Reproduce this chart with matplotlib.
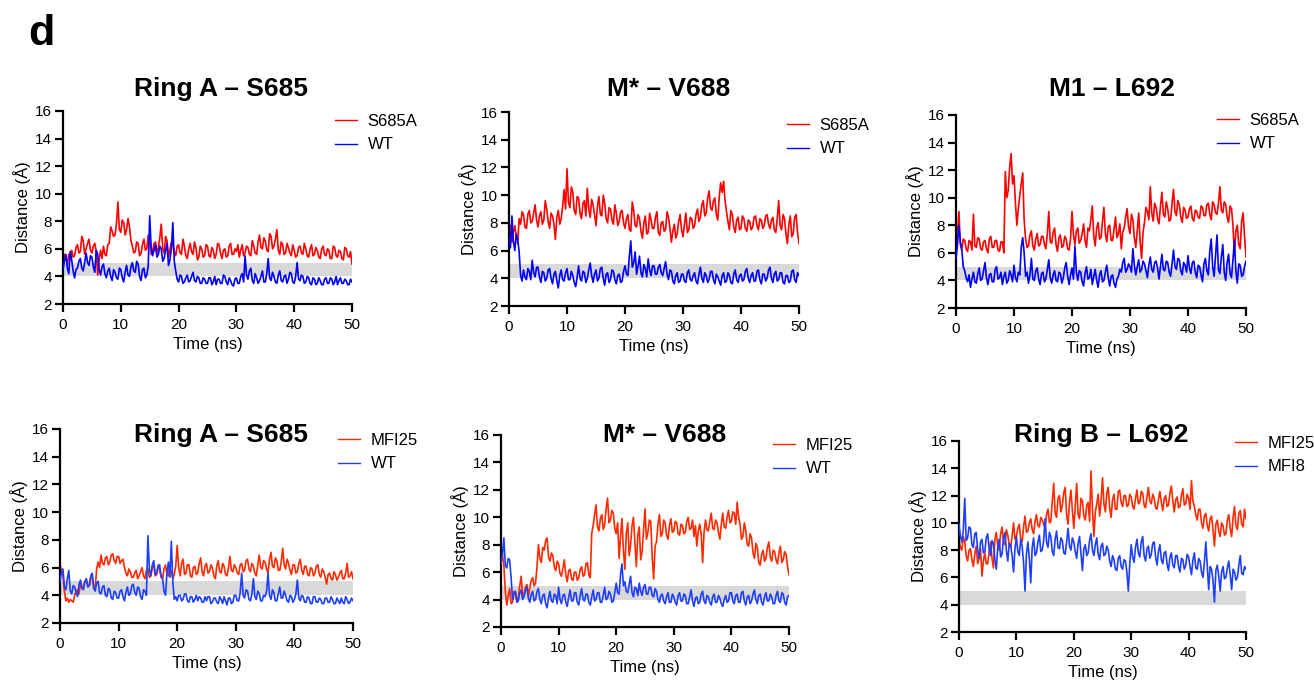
import numpy as np
import matplotlib
matplotlib.use("Agg")
import matplotlib.pyplot as plt

plt.rcParams['font.family'] = ['Liberation Sans', 'DejaVu Sans']

# one sample every 0.25 ns, 0-50 ns
time_ns = np.arange(201) * 0.25

# ---------- top row: S685A vs WT ----------
ringA_s685a = [
    5.0, 5.6, 5.4, 4.9, 5.6, 5.2, 5.9, 5.4, 5.5, 6.1, 6.3, 5.7, 5.8, 6.9, 6.6, 5.6, 6.0, 6.4, 6.7, 5.9,
    5.7, 6.2, 6.4, 5.8, 4.1, 5.2, 5.9, 5.3, 6.2, 5.6, 5.5, 6.3, 6.4, 7.6, 7.3, 6.9, 7.0, 7.8, 9.4, 7.4,
    7.2, 8.1, 7.9, 7.0, 7.4, 8.2, 7.6, 6.6, 6.2, 5.7, 5.8, 6.5, 6.4, 5.5, 5.7, 6.3, 6.7, 5.9, 6.0, 7.0,
    6.9, 5.6, 5.8, 6.4, 6.5, 5.7, 6.1, 6.8, 7.8, 6.0, 5.7, 6.9, 6.6, 5.4, 5.9, 6.5, 6.3, 5.8, 5.5, 6.2,
    6.3, 5.7, 5.6, 6.7, 6.2, 5.5, 5.3, 6.0, 6.4, 5.8, 5.6, 6.5, 6.1, 5.2, 5.4, 6.2, 6.0, 5.4, 5.5, 6.3,
    6.2, 5.5, 5.4, 6.1, 5.9, 5.3, 5.6, 6.4, 6.3, 5.7, 5.3, 5.9, 6.0, 5.4, 5.5, 6.2, 6.4, 5.6, 5.6, 6.0,
    5.8, 6.3, 5.4, 5.9, 6.3, 5.5, 5.7, 6.2, 6.1, 5.6, 5.5, 6.6, 6.2, 5.7, 5.6, 6.5, 7.0, 6.1, 6.0, 6.8,
    6.6, 5.9, 5.8, 7.1, 6.9, 6.0, 6.2, 6.7, 7.4, 5.9, 5.6, 6.5, 6.3, 5.6, 5.7, 6.4, 6.1, 5.7, 5.5, 6.3,
    5.9, 5.4, 5.5, 6.1, 6.2, 5.7, 5.6, 6.4, 6.0, 5.5, 5.4, 6.0, 6.3, 5.5, 5.6, 6.1, 5.9, 5.4, 5.3, 6.0,
    6.2, 5.6, 5.5, 6.0, 5.9, 5.3, 5.3, 6.2, 6.1, 5.5, 5.4, 5.9, 5.8, 5.3, 5.2, 6.1, 6.0, 5.5, 5.4, 5.8,
    4.9]
ringA_wt_top = [
    4.5, 5.1, 5.6, 4.6, 4.2, 5.8, 5.2, 4.4, 3.9, 4.5, 4.6, 5.1, 5.3, 4.6, 4.4, 5.0, 5.7, 5.0, 4.8, 5.5,
    5.4, 4.7, 4.3, 5.9, 5.6, 4.5, 4.1, 4.7, 4.9, 4.2, 3.9, 4.4, 4.6, 4.0, 3.7, 4.5, 4.3, 3.9, 3.8, 4.6,
    4.5, 3.9, 3.6, 4.3, 4.8, 4.1, 4.0, 4.7, 5.0, 4.4, 4.3, 5.1, 4.9, 4.0, 3.7, 4.5, 4.6, 3.9, 4.1, 4.8,
    8.4, 6.1, 5.5, 5.9, 6.3, 5.4, 5.6, 6.2, 6.0, 5.1, 5.3, 5.9, 6.4, 4.8, 5.2, 6.0, 7.9, 5.1, 4.4, 3.8,
    3.6, 4.1, 4.0, 3.5, 3.6, 3.9, 4.1, 3.6, 3.7, 4.0, 4.3, 3.7, 3.6, 4.0, 3.9, 3.5, 3.5, 3.9, 3.8, 3.5,
    3.5, 3.9, 3.9, 3.4, 3.6, 4.0, 3.4, 3.8, 3.8, 3.5, 3.5, 4.1, 4.0, 3.6, 3.4, 3.9, 3.7, 3.4, 3.3, 3.8,
    3.9, 3.5, 3.5, 4.0, 4.2, 3.6, 5.5, 4.1, 3.8, 4.4, 4.6, 3.7, 3.5, 4.2, 3.9, 3.5, 3.7, 4.0, 4.4, 3.6,
    3.6, 4.2, 5.3, 3.9, 3.7, 4.3, 4.0, 3.6, 3.5, 4.1, 4.4, 3.7, 3.6, 4.0, 4.1, 3.5, 3.8, 4.3, 4.2, 3.6,
    3.5, 4.0, 5.0, 3.8, 3.7, 4.1, 4.0, 3.5, 3.6, 4.0, 3.9, 3.5, 3.4, 3.9, 3.8, 3.4, 3.5, 3.9, 3.7, 3.4,
    3.4, 3.8, 3.9, 3.5, 3.5, 3.9, 3.8, 3.4, 3.6, 4.0, 3.4, 3.7, 3.9, 3.5, 3.5, 3.8, 3.7, 3.4, 3.4, 3.8,
    3.6]

mstar_s685a = [
    7.2, 7.8, 6.6, 7.3, 7.8, 7.0, 6.5, 8.3, 7.9, 8.8, 8.6, 7.7, 7.6, 8.6, 8.9, 8.0, 8.1, 8.7, 9.3, 8.2,
    7.7, 8.5, 8.8, 7.9, 8.2, 9.6, 9.0, 8.1, 7.6, 8.7, 8.5, 7.9, 6.8, 8.4, 8.9, 7.9, 8.3, 9.2, 10.4, 9.0,
    11.9, 9.5, 9.1, 10.6, 10.2, 8.9, 8.6, 9.9, 9.8, 8.7, 8.3, 9.4, 9.6, 8.5, 10.5, 9.0, 8.4, 9.7, 9.3, 8.6,
    7.8, 9.2, 9.9, 8.6, 8.5, 10.0, 9.4, 8.3, 8.0, 9.1, 9.0, 8.2, 7.9, 9.3, 8.7, 7.8, 8.1, 8.8, 8.9, 8.0,
    7.6, 8.3, 8.6, 7.5, 7.4, 9.5, 8.9, 7.8, 7.7, 8.6, 8.3, 7.4, 6.9, 8.0, 8.5, 7.2, 7.3, 8.7, 8.2, 7.6,
    7.6, 8.4, 8.8, 7.3, 7.1, 8.0, 8.1, 7.4, 7.5, 8.8, 8.4, 7.6, 6.6, 7.4, 7.9, 6.9, 7.2, 8.1, 8.6, 7.5,
    7.0, 7.9, 8.7, 7.3, 7.5, 8.4, 8.3, 7.6, 7.8, 8.6, 9.0, 8.1, 8.4, 9.3, 9.6, 8.5, 8.7, 9.8, 10.3, 9.1,
    8.9, 9.6, 9.8, 8.6, 8.2, 9.9, 10.9, 10.2, 11.0, 9.6, 8.8, 8.1, 7.5, 8.9, 8.6, 7.7, 7.3, 8.2, 8.4, 7.5,
    7.6, 8.5, 8.3, 7.6, 7.4, 8.2, 8.1, 7.5, 7.7, 8.4, 8.5, 7.8, 7.5, 8.3, 8.2, 7.6, 7.8, 8.5, 8.6, 7.9,
    7.6, 8.2, 8.4, 7.5, 7.3, 8.3, 9.6, 7.8, 7.5, 8.6, 8.3, 7.2, 6.5, 7.9, 8.5, 7.0, 7.2, 8.4, 8.6, 7.3,
    6.5]
mstar_wt_top = [
    7.0, 6.2, 8.5, 6.7, 6.0, 7.2, 6.8, 5.9, 4.2, 3.8, 4.6, 4.1, 3.9, 4.7, 4.5, 3.9, 5.3, 4.4, 4.1, 4.8,
    4.8, 4.1, 3.7, 4.5, 4.4, 3.8, 4.0, 4.6, 4.7, 4.0, 3.6, 4.3, 4.5, 3.8, 3.3, 4.2, 4.6, 3.9, 3.8, 4.4,
    4.7, 3.9, 3.9, 4.5, 4.2, 3.7, 3.4, 4.1, 4.9, 4.0, 3.8, 4.5, 4.4, 3.7, 4.0, 4.6, 5.1, 4.2, 3.7, 4.3,
    4.6, 3.8, 4.0, 4.7, 4.8, 4.0, 3.5, 4.3, 4.4, 3.7, 3.9, 4.6, 4.5, 3.9, 3.6, 4.2, 4.3, 3.7, 3.8, 4.5,
    4.9, 4.3, 4.2, 5.6, 6.7, 4.8, 5.1, 5.9, 4.3, 4.9, 5.6, 4.4, 4.1, 5.0, 4.7, 4.1, 5.4, 4.6, 4.2, 4.9,
    4.9, 4.3, 4.3, 4.8, 5.0, 4.4, 4.2, 4.7, 5.2, 4.3, 3.9, 4.6, 4.5, 3.8, 3.6, 4.2, 4.4, 3.7, 3.8, 4.3,
    4.3, 3.8, 3.7, 4.4, 4.6, 3.9, 3.8, 4.2, 4.4, 3.8, 3.6, 4.3, 4.8, 4.0, 3.7, 4.4, 4.2, 3.7, 3.9, 4.5,
    4.5, 3.9, 3.6, 4.3, 4.1, 3.8, 3.5, 4.2, 4.4, 3.7, 3.8, 4.4, 4.2, 3.7, 3.6, 4.3, 4.6, 3.9, 3.7, 4.2,
    4.3, 3.8, 3.9, 4.5, 4.7, 4.0, 3.7, 4.2, 4.4, 3.8, 3.8, 4.5, 4.6, 3.9, 3.6, 4.3, 4.3, 3.8, 4.0, 4.6,
    4.8, 4.0, 3.7, 4.3, 4.5, 3.8, 3.9, 4.4, 4.4, 3.7, 3.6, 4.2, 4.2, 3.7, 3.8, 4.5, 4.6, 3.9, 3.7, 4.4,
    4.2]

m1_s685a = [
    6.3, 7.4, 9.0, 6.6, 6.2, 7.0, 6.9, 6.3, 6.1, 6.9, 6.8, 6.2, 8.8, 6.5, 6.4, 7.1, 7.0, 6.3, 6.2, 6.8,
    6.9, 6.3, 6.0, 7.0, 7.2, 6.4, 6.4, 6.9, 6.9, 6.2, 6.1, 6.8, 6.8, 6.0, 11.9, 10.0, 10.5, 12.2, 13.2, 11.0,
    11.6, 9.6, 8.0, 9.2, 10.2, 11.0, 11.8, 8.4, 7.0, 6.4, 6.5, 7.3, 7.6, 6.5, 6.2, 7.0, 7.4, 6.5, 6.6, 7.2,
    7.2, 6.6, 6.3, 7.4, 9.0, 6.8, 6.7, 7.5, 7.8, 6.6, 6.1, 7.1, 7.3, 6.4, 6.5, 7.2, 7.0, 6.3, 6.2, 7.0,
    9.0, 7.3, 6.6, 7.6, 7.8, 6.7, 6.9, 7.4, 8.1, 6.9, 6.4, 7.8, 7.6, 8.4, 9.4, 7.2, 6.5, 7.8, 8.2, 7.0,
    7.1, 8.3, 9.3, 7.4, 6.8, 7.9, 8.0, 6.9, 6.9, 7.7, 8.6, 7.1, 7.4, 8.1, 6.3, 7.5, 7.8, 8.6, 9.2, 7.9,
    7.4, 8.8, 8.4, 7.1, 6.4, 7.6, 8.9, 6.8, 5.6, 7.5, 8.2, 9.3, 9.0, 8.4, 10.8, 8.9, 8.3, 9.6, 9.3, 8.5,
    8.1, 9.4, 10.4, 8.8, 8.6, 9.7, 9.2, 8.3, 8.4, 9.6, 10.6, 9.0, 8.7, 9.8, 9.5, 8.6, 8.2, 9.3, 9.1, 8.5,
    8.6, 9.2, 9.4, 8.5, 8.3, 9.1, 9.0, 8.6, 8.5, 9.4, 9.3, 8.7, 8.7, 9.5, 9.6, 8.8, 8.4, 9.7, 9.5, 8.9,
    8.8, 9.6, 10.8, 9.1, 8.9, 9.7, 9.5, 8.6, 8.2, 9.4, 9.2, 8.0, 5.8, 7.6, 8.0, 6.6, 6.3, 8.3, 8.9, 7.2,
    5.7]
m1_wt_top = [
    5.6, 6.6, 8.0, 6.8, 6.2, 5.0, 4.7, 4.2, 3.9, 4.4, 3.5, 4.1, 4.6, 3.9, 3.8, 4.5, 4.9, 4.0, 4.1, 4.7,
    5.3, 4.2, 3.7, 4.4, 4.5, 3.9, 3.9, 4.8, 5.0, 4.1, 4.2, 4.6, 3.7, 4.3, 4.6, 3.8, 4.0, 4.7, 4.4, 3.9,
    5.1, 4.2, 3.9, 4.6, 4.4, 6.4, 7.1, 6.0, 4.3, 4.6, 3.8, 4.4, 5.6, 4.1, 4.0, 4.7, 4.9, 4.1, 3.7, 4.5,
    4.6, 3.9, 4.1, 4.8, 5.5, 4.2, 3.8, 4.4, 4.7, 4.0, 3.9, 4.6, 4.5, 3.8, 4.2, 4.9, 5.3, 4.3, 3.7, 4.4,
    4.9, 4.1, 6.5, 4.6, 4.0, 4.7, 4.6, 3.9, 3.6, 4.5, 5.0, 4.1, 4.2, 4.8, 3.7, 4.3, 4.8, 4.0, 3.5, 4.4,
    4.7, 3.9, 4.0, 4.6, 5.1, 4.2, 3.6, 4.3, 4.4, 3.8, 3.5, 4.1, 4.3, 4.8, 4.6, 5.3, 5.6, 4.6, 4.8, 5.2,
    5.0, 4.6, 6.3, 5.1, 4.4, 5.0, 5.5, 4.6, 4.8, 5.4, 5.2, 4.7, 4.2, 5.1, 5.7, 4.8, 4.6, 5.3, 5.4, 4.9,
    4.1, 5.0, 5.9, 4.8, 4.7, 5.4, 5.3, 4.6, 4.3, 5.2, 6.2, 5.0, 4.8, 5.6, 5.5, 4.7, 4.4, 5.3, 5.1, 4.6,
    5.8, 4.9, 4.5, 5.3, 5.4, 4.6, 4.2, 5.1, 5.0, 4.4, 3.9, 5.2, 5.6, 4.7, 4.4, 6.1, 7.0, 5.0, 4.3, 5.8,
    7.3, 4.8, 4.5, 5.7, 6.6, 4.6, 4.0, 5.3, 5.9, 4.5, 4.2, 5.5, 6.9, 4.7, 3.8, 5.2, 5.1, 4.3, 4.4, 5.0,
    5.4]

# ---------- bottom row: MFI25 vs WT / MFI8 ----------
ringA_mfi25 = [
    6.2, 5.8, 5.4, 4.3, 3.6, 3.8, 3.5, 3.7, 3.6, 3.5, 4.0, 4.3, 4.4, 4.1, 4.9, 4.5, 4.6, 5.0, 5.1, 4.7,
    4.7, 5.2, 5.3, 4.6, 4.5, 5.9, 6.4, 6.0, 6.9, 6.3, 6.2, 6.7, 6.8, 6.2, 6.4, 6.9, 7.0, 6.5, 6.3, 6.8,
    6.8, 6.3, 6.5, 6.6, 6.0, 5.6, 5.4, 5.9, 5.7, 5.3, 5.3, 5.6, 5.8, 5.2, 5.4, 5.7, 6.0, 5.4, 5.2, 5.8,
    5.9, 5.3, 5.4, 6.0, 6.1, 5.4, 5.5, 6.2, 5.8, 5.3, 5.2, 5.9, 6.2, 5.5, 5.4, 6.0, 5.7, 5.2, 5.5, 6.1,
    7.6, 6.0, 5.4, 6.3, 6.6, 5.5, 5.6, 6.2, 6.2, 5.4, 5.3, 6.0, 6.1, 5.5, 5.6, 6.3, 6.7, 5.7, 5.4, 6.1,
    6.3, 5.6, 5.7, 6.2, 6.0, 5.4, 5.2, 6.1, 6.5, 5.7, 5.6, 6.3, 6.1, 5.5, 5.4, 6.0, 6.8, 5.8, 5.7, 6.2,
    6.0, 5.6, 5.5, 6.2, 6.3, 5.7, 5.8, 6.5, 6.6, 5.9, 5.7, 6.3, 6.1, 5.6, 5.4, 6.2, 6.9, 6.0, 5.9, 6.5,
    6.4, 5.9, 5.6, 6.6, 7.1, 6.1, 6.0, 6.7, 6.5, 5.8, 5.8, 6.4, 7.4, 6.2, 5.9, 6.6, 6.3, 5.8, 5.5, 6.2,
    6.2, 5.6, 5.7, 6.3, 6.6, 5.8, 5.5, 6.1, 6.1, 5.5, 5.4, 6.0, 5.9, 5.4, 5.6, 6.1, 6.2, 5.5, 5.3, 5.9,
    5.7, 5.3, 4.8, 5.5, 5.6, 5.2, 5.1, 5.7, 5.5, 5.1, 5.3, 5.6, 5.8, 5.2, 5.2, 5.6, 6.3, 5.3, 5.4, 5.7,
    5.2]
ringA_wt_bot = [
    5.0, 5.6, 5.9, 4.6, 4.4, 5.2, 5.8, 4.3, 4.1, 4.7, 4.6, 4.2, 3.9, 4.8, 5.1, 4.5, 4.4, 5.0, 5.2, 4.6,
    4.7, 5.4, 5.6, 4.5, 4.3, 4.9, 5.0, 4.2, 4.1, 4.6, 4.7, 4.0, 3.9, 4.5, 4.4, 3.8, 3.7, 4.3, 4.2, 3.8,
    3.8, 4.3, 4.4, 3.9, 3.6, 4.2, 4.6, 4.0, 4.1, 4.7, 4.8, 4.2, 4.0, 4.6, 4.5, 3.9, 3.7, 4.4, 4.3, 4.0,
    8.3, 5.9, 5.4, 6.2, 6.5, 5.5, 5.6, 6.1, 6.2, 5.4, 5.2, 4.3, 4.0, 5.6, 6.4, 5.3, 7.9, 5.0, 3.7, 3.9,
    3.6, 4.0, 4.0, 3.6, 3.7, 4.1, 4.1, 3.6, 3.5, 3.9, 3.9, 3.5, 3.7, 4.0, 3.6, 3.9, 3.8, 3.5, 3.5, 3.9,
    3.6, 3.9, 3.9, 3.4, 3.5, 3.8, 3.8, 3.5, 3.4, 3.9, 3.7, 3.4, 3.9, 3.6, 3.3, 3.8, 3.8, 3.4, 3.5, 4.0,
    4.0, 3.6, 3.6, 4.2, 5.6, 4.0, 3.8, 4.4, 4.3, 3.7, 3.6, 4.1, 5.2, 3.9, 3.7, 4.3, 4.1, 3.6, 3.6, 4.0,
    3.9, 4.3, 5.6, 4.0, 3.7, 4.4, 4.2, 3.6, 3.6, 4.1, 4.6, 3.8, 3.8, 4.3, 4.0, 3.6, 3.5, 4.0, 3.9, 3.5,
    3.7, 4.1, 5.1, 3.8, 3.6, 4.0, 3.9, 3.5, 3.5, 3.9, 3.8, 3.4, 3.4, 3.9, 3.9, 3.5, 3.5, 3.8, 3.7, 3.4,
    3.4, 3.8, 3.8, 3.5, 3.5, 3.9, 3.7, 3.4, 3.4, 3.8, 3.6, 3.4, 3.8, 3.5, 3.4, 3.9, 3.7, 3.4, 3.5, 3.8,
    3.6]

mstar_mfi25 = [
    8.0, 7.3, 6.5, 4.6, 3.6, 4.3, 4.8, 3.7, 3.8, 4.6, 4.5, 3.9, 4.2, 5.0, 5.7, 4.3, 4.4, 4.9, 5.1, 4.2,
    4.9, 5.4, 5.6, 5.0, 5.2, 6.4, 8.0, 7.0, 6.7, 7.8, 7.6, 8.3, 8.5, 7.1, 6.8, 7.4, 7.2, 6.4, 6.1, 6.8,
    6.6, 5.9, 5.7, 6.3, 6.9, 5.8, 5.3, 6.1, 6.2, 5.5, 5.4, 6.0, 6.0, 5.4, 5.6, 6.2, 6.4, 5.7, 5.8, 6.6,
    6.7, 5.8, 5.6, 8.8, 9.4, 10.2, 10.9, 9.3, 9.0, 9.9, 10.2, 9.1, 9.5, 10.6, 11.4, 9.6, 9.8, 10.5, 10.3, 9.2,
    8.8, 9.6, 7.0, 8.6, 9.9, 7.6, 6.2, 8.8, 9.6, 7.2, 8.0, 9.4, 10.0, 8.1, 6.4, 8.7, 9.3, 6.9, 7.5, 9.0,
    10.6, 8.4, 8.9, 9.8, 9.7, 7.1, 5.5, 7.9, 8.2, 9.5, 10.2, 8.6, 8.8, 9.8, 9.6, 8.7, 8.4, 9.4, 9.9, 8.9,
    9.0, 9.7, 9.6, 8.8, 8.7, 9.5, 9.4, 8.8, 8.9, 9.7, 10.0, 9.1, 9.2, 9.8, 8.6, 9.4, 7.9, 9.0, 9.5, 8.8,
    6.7, 8.9, 9.8, 9.1, 9.0, 9.7, 10.3, 9.2, 9.1, 9.8, 9.6, 8.9, 8.4, 9.5, 10.3, 9.3, 9.2, 10.0, 10.5, 9.6,
    9.7, 10.4, 10.3, 9.5, 11.1, 10.0, 9.5, 8.4, 8.6, 9.6, 9.0, 8.0, 7.9, 8.8, 8.5, 7.4, 7.0, 8.1, 7.8, 6.7,
    6.5, 7.3, 7.6, 6.8, 7.0, 7.8, 8.2, 7.1, 6.8, 7.6, 7.5, 6.9, 6.6, 7.4, 7.9, 6.7, 6.9, 7.5, 7.3, 6.4,
    5.8]
mstar_wt_bot = [
    6.6, 7.3, 8.5, 6.5, 6.3, 7.0, 6.9, 5.6, 4.0, 4.4, 4.6, 3.8, 3.9, 4.5, 4.7, 4.0, 4.2, 4.7, 4.9, 4.1,
    3.8, 4.4, 4.6, 3.9, 4.0, 4.6, 4.8, 4.0, 3.7, 4.3, 4.4, 3.7, 3.4, 4.1, 4.6, 3.9, 3.8, 4.4, 4.3, 3.7,
    4.9, 4.0, 3.7, 4.3, 4.4, 3.8, 3.5, 4.2, 4.7, 3.9, 3.9, 4.5, 4.5, 3.8, 3.6, 4.3, 4.8, 4.0, 3.9, 4.4,
    4.4, 3.8, 3.6, 4.2, 4.7, 3.9, 4.0, 4.5, 4.5, 3.8, 3.8, 4.3, 4.9, 4.0, 4.1, 4.6, 4.4, 3.8, 3.9, 4.5,
    5.2, 4.5, 4.4, 5.8, 6.6, 5.0, 5.3, 4.6, 4.5, 5.1, 5.7, 4.5, 4.2, 4.9, 4.8, 4.3, 5.2, 4.6, 4.3, 4.9,
    5.1, 4.4, 4.4, 4.9, 4.9, 4.3, 4.2, 4.8, 4.6, 4.0, 3.8, 4.3, 4.4, 3.9, 3.7, 4.2, 4.5, 3.8, 3.8, 4.4,
    4.2, 3.8, 3.6, 4.3, 4.5, 3.9, 3.9, 4.4, 4.3, 3.7, 3.7, 4.2, 4.7, 3.9, 3.5, 4.1, 4.2, 3.7, 3.8, 4.4,
    4.6, 3.9, 3.7, 4.3, 4.2, 3.8, 3.6, 4.2, 4.4, 3.8, 3.8, 4.3, 4.1, 3.7, 3.5, 4.0, 4.3, 3.8, 3.9, 4.5,
    4.5, 3.9, 3.7, 4.3, 4.4, 3.8, 3.8, 4.5, 4.6, 3.9, 3.6, 4.2, 4.3, 3.7, 3.9, 4.4, 4.7, 4.0, 3.7, 4.3,
    4.4, 3.8, 3.6, 4.2, 4.5, 3.9, 3.9, 4.4, 4.2, 3.7, 3.7, 4.3, 4.6, 3.9, 3.8, 4.5, 4.4, 3.8, 3.6, 4.2,
    4.3]

ringB_mfi25 = [
    8.8, 8.2, 8.0, 9.0, 8.6, 7.6, 7.2, 8.0, 8.1, 7.3, 6.8, 7.7, 8.3, 7.0, 7.4, 8.1, 6.1, 7.2, 7.8, 7.0,
    7.0, 7.9, 8.6, 7.4, 6.7, 8.8, 9.3, 8.3, 8.0, 9.2, 9.7, 8.6, 8.4, 9.5, 9.1, 8.4, 8.2, 9.0, 10.0, 8.8,
    9.0, 9.6, 9.9, 8.8, 8.6, 9.7, 10.5, 9.3, 9.4, 10.0, 10.3, 9.5, 9.2, 10.1, 10.6, 9.8, 9.7, 10.4, 10.2, 9.9,
    9.6, 10.6, 11.0, 10.0, 10.1, 11.6, 12.9, 10.7, 10.4, 11.8, 12.0, 10.8, 11.3, 12.2, 12.6, 10.6, 9.9, 11.5, 12.4, 10.9,
    9.6, 11.2, 12.9, 10.6, 10.3, 11.8, 11.6, 10.5, 10.2, 11.3, 11.5, 10.1, 13.8, 11.0, 9.0, 10.8, 11.4, 12.1, 10.5, 11.6,
    13.3, 11.4, 10.8, 12.2, 12.6, 11.1, 10.4, 11.7, 12.1, 11.0, 11.0, 12.3, 12.4, 11.5, 11.2, 12.0, 12.0, 11.2, 11.3, 12.1,
    11.9, 11.2, 11.0, 11.8, 12.4, 11.4, 11.5, 12.3, 12.2, 11.3, 11.1, 11.9, 12.6, 11.6, 11.4, 12.1, 11.8, 11.1, 11.0, 11.7,
    12.3, 11.5, 10.9, 11.8, 12.0, 11.2, 11.3, 12.2, 12.7, 11.6, 10.8, 11.7, 11.9, 11.1, 11.2, 12.0, 12.5, 11.3, 11.4, 12.1,
    11.8, 11.0, 13.1, 11.6, 11.2, 10.6, 10.2, 11.0, 11.0, 10.0, 9.6, 10.5, 10.7, 9.8, 9.4, 10.3, 10.5, 9.5, 8.3, 9.9,
    10.2, 9.4, 9.0, 10.0, 9.8, 9.1, 9.2, 10.2, 10.6, 9.6, 9.0, 10.4, 11.2, 9.8, 9.5, 10.7, 10.9, 9.9, 9.7, 11.0,
    10.3]
ringB_mfi8 = [
    9.9, 9.0, 8.6, 9.5, 11.8, 8.7, 8.9, 9.7, 9.6, 8.4, 8.2, 9.2, 9.3, 8.0, 7.4, 8.6, 8.8, 7.8, 7.9, 8.9,
    9.2, 8.1, 7.6, 8.7, 8.5, 7.3, 6.6, 8.2, 8.8, 7.5, 7.7, 8.9, 9.3, 8.0, 7.2, 8.5, 8.4, 7.6, 6.4, 8.1,
    9.0, 7.9, 7.6, 8.8, 8.3, 7.1, 5.0, 7.7, 8.6, 7.4, 5.6, 8.2, 8.9, 7.6, 7.8, 8.6, 9.1, 7.9, 8.0, 8.7,
    10.3, 8.6, 8.2, 9.3, 9.0, 7.9, 7.6, 8.8, 9.4, 8.2, 8.1, 8.9, 8.7, 7.8, 7.7, 8.6, 9.6, 8.3, 8.0, 8.9,
    8.6, 7.9, 7.4, 8.5, 9.0, 7.7, 6.5, 8.1, 8.4, 7.6, 7.8, 8.7, 9.2, 8.0, 7.6, 8.4, 8.9, 7.7, 7.3, 8.3,
    8.5, 7.6, 7.7, 8.3, 8.0, 7.2, 6.8, 7.6, 7.3, 6.6, 6.5, 7.4, 7.6, 6.8, 6.6, 7.3, 7.2, 6.4, 5.0, 7.0,
    8.4, 7.5, 7.1, 8.2, 8.8, 7.8, 7.5, 8.6, 9.0, 7.6, 7.2, 8.1, 8.3, 7.4, 7.7, 8.5, 8.6, 7.5, 6.9, 7.9,
    8.4, 7.3, 7.0, 7.8, 7.9, 7.0, 6.5, 7.5, 7.8, 6.9, 6.7, 7.6, 7.6, 6.8, 6.4, 7.4, 7.3, 6.6, 6.9, 7.7,
    7.5, 6.8, 6.2, 7.3, 7.8, 6.7, 6.6, 7.4, 7.2, 6.4, 6.0, 7.1, 8.6, 6.9, 5.1, 6.8, 6.6, 5.8, 4.2, 6.5,
    6.9, 6.1, 5.0, 6.4, 6.8, 5.9, 6.0, 6.7, 7.2, 6.2, 5.1, 6.6, 6.4, 5.8, 6.0, 6.9, 7.6, 6.3, 6.2, 6.8,
    6.6]

W, H = 1314, 682
fig = plt.figure(figsize=(W / 100, H / 100), dpi=100)

top_red, top_blue = '#ff0000', '#0000ff'
bot_red, bot_blue = '#ff2a00', '#1f3fff'

# title, red trace, blue trace, legend labels, colours,
# axes box (px: left, top, right, bottom), legend corner (px), title baseline (px)
panels = [
    ("Ring A – S685", ringA_s685a, ringA_wt_top, ("S685A", "WT"), (top_red, top_blue),
     (63, 111, 352, 304), (335, 114), (221, 96)),
    ("M* – V688", mstar_s685a, mstar_wt_top, ("S685A", "WT"), (top_red, top_blue),
     (509, 112, 799, 306), (787, 118), (669, 96)),
    ("M1 – L692", m1_s685a, m1_wt_top, ("S685A", "WT"), (top_red, top_blue),
     (956, 115, 1246, 308), (1217, 113), (1112, 96)),
    ("Ring A – S685", ringA_mfi25, ringA_wt_bot, ("MFI25", "WT"), (bot_red, bot_blue),
     (60, 429, 353, 623), (338, 433), (221, 442)),
    ("M* – V688", mstar_mfi25, mstar_wt_bot, ("MFI25", "WT"), (bot_red, bot_blue),
     (501, 435, 789, 627), (773, 438), (665, 442)),
    ("Ring B – L692", ringB_mfi25, ringB_mfi8, ("MFI25", "MFI8"), (bot_red, bot_blue),
     (959, 441, 1246, 632), (1235, 436), (1101, 442)),
]

for title, red, blue, labels, cols, box, leg_xy, title_xy in panels:
    x0, y0, x1, y1 = box
    ax = fig.add_axes([x0 / W, 1 - y1 / H, (x1 - x0) / W, (y1 - y0) / H])
    ax.axhspan(4, 5, color='#d9d9d9', lw=0, zorder=0)
    ax.plot(time_ns, red, color=cols[0], lw=1.2, label=labels[0], zorder=2)
    ax.plot(time_ns, blue, color=cols[1], lw=1.2, label=labels[1], zorder=3)
    ax.set_xlim(0, 50)
    ax.set_ylim(2, 16)
    ax.set_xticks(range(0, 51, 10))
    ax.set_yticks(range(2, 17, 2))
    for s in ('top', 'right'):
        ax.spines[s].set_visible(False)
    for s in ('left', 'bottom'):
        ax.spines[s].set_linewidth(1.6)
    ax.tick_params(width=1.6, length=6, labelsize=11)
    ax.tick_params(axis='x', pad=4)
    ax.tick_params(axis='y', pad=2)
    ax.set_xlabel("Time (ns)", fontsize=12, labelpad=4)
    ax.set_ylabel("Distance (Å)", fontsize=12, labelpad=3)
    leg = ax.legend(loc='upper left', bbox_to_anchor=(leg_xy[0] / W, 1 - leg_xy[1] / H),
                    bbox_transform=fig.transFigure, frameon=False, fontsize=12,
                    borderpad=0, borderaxespad=0, handlelength=1.3,
                    handletextpad=0.65, labelspacing=0.5)
    for line in leg.get_lines():
        line.set_linewidth(1.0)
    fig.text(title_xy[0] / W, 1 - title_xy[1] / H, title, ha='center', va='baseline',
             fontsize=19, fontweight='bold')

fig.text(28 / W, 1 - 45 / H, "d", ha='left', va='baseline', fontsize=31, fontweight='bold')

fig.savefig("out.png", dpi=100)
